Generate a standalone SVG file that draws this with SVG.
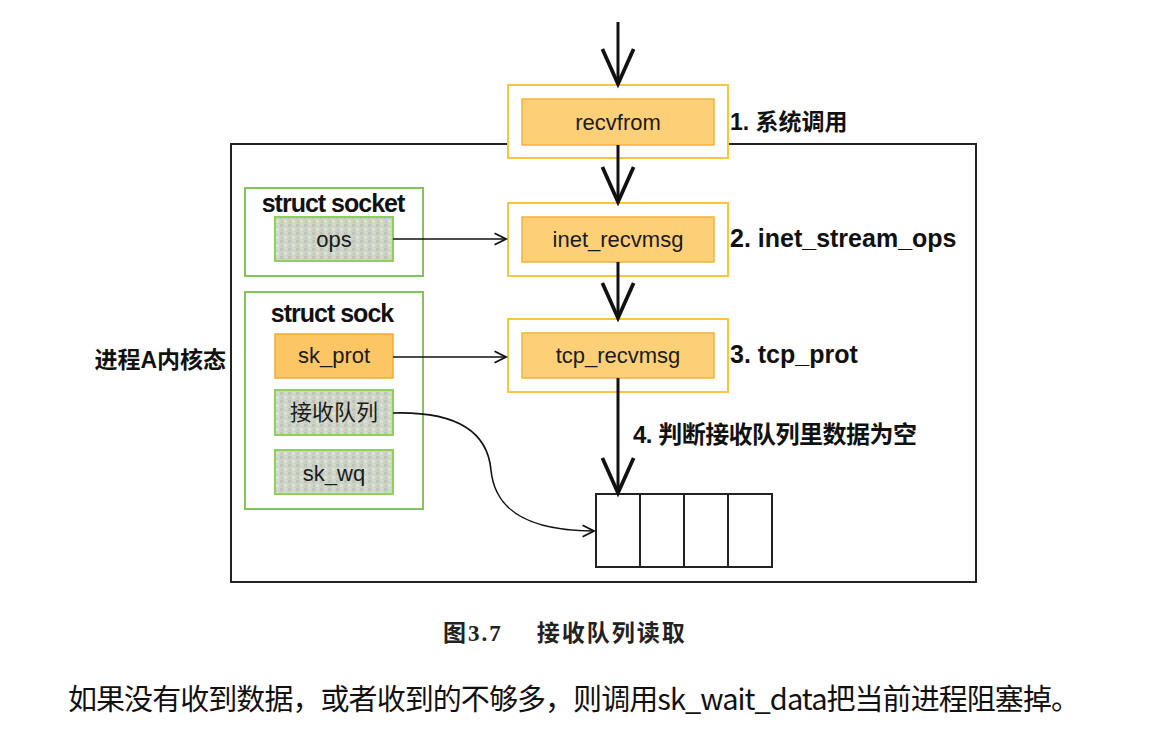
<svg xmlns="http://www.w3.org/2000/svg" width="1165" height="741" viewBox="0 0 1165 741">
<style>
.lbl{font-family:"Liberation Sans","Noto Sans CJK SC",sans-serif;font-weight:bold;fill:#111}
.txt{font-family:"Liberation Sans","Noto Sans CJK SC",sans-serif;font-size:22px;fill:#1a1a1a;text-anchor:middle}
.outerO{fill:#fff;stroke:#f7c53e;stroke-width:2}
.innerO{fill:#fdd077;stroke:#f3b23a;stroke-width:1.5}
.grp{fill:#fff;stroke:#82c45a;stroke-width:2}
.gbox{fill:url(#mottle);stroke:#8fd05c;stroke-width:2}
.big{stroke:#111;stroke-width:3;fill:none}
.thin{stroke:#111;stroke-width:1.6;fill:none}
</style>
<defs>
<pattern id="mottle" width="8" height="8" patternUnits="userSpaceOnUse">
<rect width="8" height="8" fill="#cdd3c6"/>
<rect x="0" y="0" width="3" height="3" fill="#bfc4ba"/>
<rect x="4" y="4" width="3" height="3" fill="#dce3d3"/>
<rect x="5" y="0" width="2" height="2" fill="#d6dccd"/>
<rect x="1" y="5" width="2" height="2" fill="#c2c8bc"/>
</pattern>
<marker id="bigHead" markerUnits="userSpaceOnUse" markerWidth="40" markerHeight="40" viewBox="-30 -15 32 30" refX="0" refY="0" orient="auto" overflow="visible">
<path d="M-28,-12.5 L0,0 L-28,12.5" fill="none" stroke="#111" stroke-width="3" stroke-linejoin="miter"/>
</marker>
<marker id="smallHead" markerUnits="userSpaceOnUse" markerWidth="16" markerHeight="16" viewBox="-12 -7 14 14" refX="0" refY="0" orient="auto" overflow="visible">
<path d="M-10,-5 L0,0 L-10,5" fill="none" stroke="#111" stroke-width="1.6"/>
</marker>
</defs>

<g id="kernel-frame">
<rect x="231" y="144" width="745" height="438" fill="#fff" stroke="#222" stroke-width="2"/>
<text class="lbl" x="226" y="368" font-size="23" text-anchor="end">进程A内核态</text>
</g>

<g id="struct-socket">
<rect class="grp" x="245" y="188" width="178" height="88"/>
<text class="lbl" x="333" y="212" font-size="25" letter-spacing="-1" text-anchor="middle">struct socket</text>
</g>
<g id="ops">
<rect class="gbox" x="275" y="217" width="118" height="44"/>
<text class="txt" x="334" y="247" font-size="23">ops</text>
</g>

<g id="struct-sock">
<rect class="grp" x="245" y="292" width="178" height="217"/>
<text class="lbl" x="332" y="322" font-size="25" letter-spacing="-1" text-anchor="middle">struct sock</text>
</g>
<g id="sk_prot">
<rect x="275" y="334" width="118" height="44" fill="#fcc665" stroke="#f2aa35" stroke-width="1.5"/>
<text class="txt" x="334" y="363">sk_prot</text>
</g>
<g id="recv-queue-field">
<rect class="gbox" x="275" y="390" width="118" height="45"/>
<text class="txt" x="334" y="420" font-size="20">接收队列</text>
</g>
<g id="sk_wq">
<rect class="gbox" x="275" y="450" width="118" height="44"/>
<text class="txt" x="334" y="481">sk_wq</text>
</g>

<g id="recvfrom">
<rect class="outerO" x="508" y="85" width="220" height="73"/>
<rect class="innerO" x="522" y="99" width="192" height="46"/>
<text class="txt" x="618" y="130">recvfrom</text>
<text class="lbl" x="730" y="130" font-size="23">1. 系统调用</text>
</g>

<g id="inet_recvmsg">
<rect class="outerO" x="508" y="203" width="220" height="73"/>
<rect class="innerO" x="522" y="217" width="192" height="45"/>
<text class="txt" x="618" y="247">inet_recvmsg</text>
<text class="lbl" x="730" y="247" font-size="25">2. inet_stream_ops</text>
</g>

<g id="tcp_recvmsg">
<rect class="outerO" x="508" y="319" width="220" height="73"/>
<rect class="innerO" x="522" y="333" width="192" height="45"/>
<text class="txt" x="618" y="363">tcp_recvmsg</text>
<text class="lbl" x="730" y="363" font-size="25">3. tcp_prot</text>
</g>

<g id="queue">
<rect x="596" y="494" width="176" height="73" fill="#fff" stroke="#222" stroke-width="2"/>
<line x1="640" y1="494" x2="640" y2="567" stroke="#222" stroke-width="2"/>
<line x1="684" y1="494" x2="684" y2="567" stroke="#222" stroke-width="2"/>
<line x1="728" y1="494" x2="728" y2="567" stroke="#222" stroke-width="2"/>
</g>

<g id="connectors">
<line class="big" x1="618" y1="22" x2="618" y2="84" marker-end="url(#bigHead)"/>
<line class="big" x1="618" y1="145" x2="618" y2="202" marker-end="url(#bigHead)"/>
<line class="big" x1="618" y1="262" x2="618" y2="318" marker-end="url(#bigHead)"/>
<line class="big" x1="618" y1="378" x2="618" y2="493" marker-end="url(#bigHead)"/>
<line class="thin" x1="393" y1="239" x2="506" y2="239" marker-end="url(#smallHead)"/>
<line class="thin" x1="393" y1="357" x2="506" y2="357" marker-end="url(#smallHead)"/>
<path class="thin" d="M393,413 C465,411 488,438 491,470 C495,512 530,531 594,531" marker-end="url(#smallHead)"/>
<text class="lbl" x="633" y="443" font-size="24" textLength="284" lengthAdjust="spacing">4. 判断接收队列里数据为空</text>
</g>

<g id="caption">
<text x="443" y="641" font-family="Liberation Serif,'Noto Sans CJK SC',serif" font-size="23" font-weight="bold" fill="#222" letter-spacing="2">图3.7<tspan dx="34">接收队列读取</tspan></text>
</g>
<g id="body-text">
<text x="68" y="710" font-family="'Noto Sans CJK SC','Liberation Sans',sans-serif" font-size="29" fill="#111" textLength="1012" lengthAdjust="spacing">如果没有收到数据，或者收到的不够多，则调用sk_wait_data把当前进程阻塞掉。</text>
</g>
</svg>
